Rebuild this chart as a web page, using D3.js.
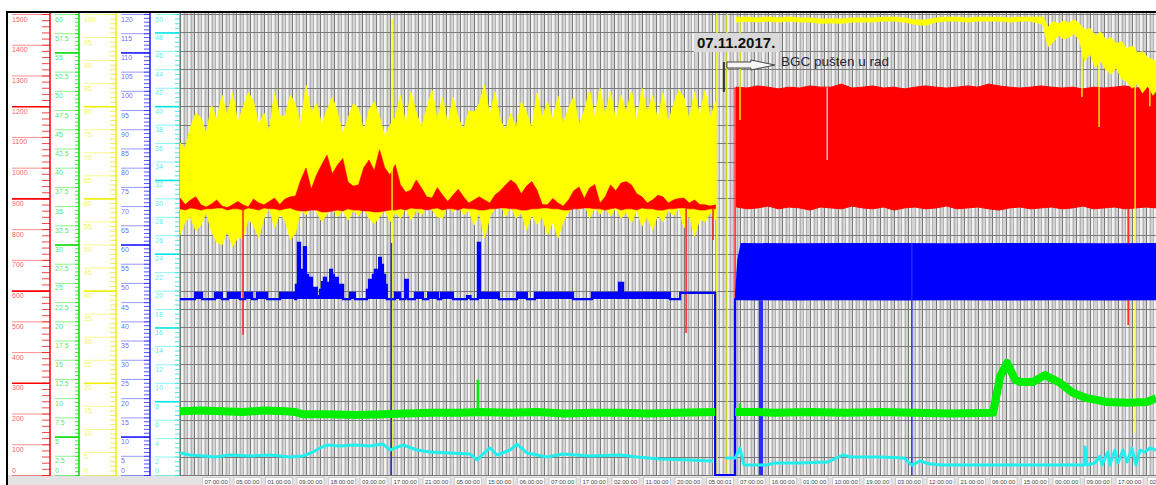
<!DOCTYPE html>
<head>
<meta charset="utf-8">
<style>
  body { margin:0; background:#fff; overflow:hidden; }
  svg { display:block; font-family:"Liberation Sans", Arial, sans-serif; }
</style>
<script src="https://d3js.org/d3.v7.min.js"></script>
</head>
<body>
<script>

// ---------- values ----------
// left axes: red, green, yellow, blue, cyan
var axisMax   = [1500, 60, 100, 120, 50];
var axisStep  = [100, 2.5, 5, 5, 2];
var axisMinor = [20, 0.5, 1, 1, 0.5];
var axisBold  = [[300, 600, 900, 1200], [5, 30, 55], [20, 40, 60, 80], [10, 60, 110], [8, 16, 24, 32, 40, 48]];

var hoursShown = 279;   // hours in the trend window
var leftStep = 1.5;     // sampling of the left envelopes (h), from hour 0
var rightStep = 3;      // sampling of the red block after the start (h)
var rightStart = 159;

// yellow signal before the start, min / max envelope (yellow axis)
var yellowLeftHi = [72.0, 71.0, 75.5, 78.5, 77.4, 74.0, 80.3, 77.0, 82.4, 78.0, 82.9, 76.5, 79.6, 83.0, 81.0, 76.0, 78.5, 74.5, 82.9, 78.0, 77.7, 82.5, 80.3, 76.0, 84.6, 78.5, 80.7, 76.0, 79.2, 82.0, 78.7, 74.0, 77.4, 80.5, 79.6, 74.5, 79.2, 81.0, 77.7, 73.5, 75.9, 77.5, 82.4, 76.0, 83.1, 78.5, 75.5, 79.5, 83.5, 77.0, 81.9, 76.0, 82.0, 77.5, 74.8, 79.0, 78.7, 80.5, 84.6, 78.0, 83.1, 77.0, 74.8, 78.5, 75.3, 81.0, 78.7, 75.0, 82.9, 77.5, 81.0, 77.0, 82.2, 76.0, 79.6, 82.0, 75.9, 79.0, 83.5, 77.5, 83.9, 78.0, 83.1, 77.0, 82.4, 78.5, 83.5, 76.5, 83.9, 78.5, 82.4, 77.0, 82.9, 76.5, 80.3, 83.5, 81.9, 77.0, 83.1, 78.0, 83.5, 77.5, 81.0];
var yellowLeftLo = [52.1, 55.0, 56.0, 53.0, 54.2, 57.0, 52.7, 50.5, 49.9, 53.0, 49.5, 51.5, 51.4, 55.5, 54.2, 51.5, 55.7, 58.0, 53.6, 56.5, 55.3, 51.0, 52.5, 57.5, 56.4, 58.5, 57.0, 55.0, 56.6, 58.0, 56.0, 57.5, 55.3, 57.5, 56.2, 58.0, 55.7, 54.5, 56.0, 57.5, 54.9, 57.0, 55.7, 58.0, 55.3, 57.5, 56.4, 58.5, 57.5, 56.0, 55.7, 58.5, 57.0, 58.5, 56.4, 57.5, 54.2, 57.0, 51.4, 56.0, 57.9, 59.0, 56.0, 58.5, 55.7, 57.0, 53.1, 56.5, 54.4, 56.0, 52.1, 55.0, 51.4, 55.0, 57.0, 58.5, 57.5, 59.0, 55.7, 58.0, 56.6, 58.0, 56.2, 58.0, 55.7, 57.0, 54.7, 57.5, 54.0, 56.0, 53.1, 56.5, 54.9, 57.5, 56.2, 58.0, 53.6, 56.5, 51.8, 55.5, 54.9, 57.0, 55.3];
// red signal before the start (red axis)
var redLeftHi = [901, 880, 895, 905, 879, 872, 882, 895, 875, 870, 879, 890, 879, 872, 898, 885, 879, 890, 901, 880, 898, 905, 908, 960, 999, 930, 976, 1010, 1041, 980, 1009, 1030, 953, 940, 944, 1000, 1025, 990, 1058, 1000, 976, 1010, 944, 920, 927, 960, 934, 905, 901, 935, 911, 890, 911, 930, 905, 885, 895, 905, 895, 885, 911, 925, 944, 960, 947, 915, 940, 955, 927, 880, 879, 900, 885, 875, 895, 925, 937, 900, 934, 945, 885, 905, 944, 925, 950, 955, 944, 915, 905, 885, 895, 910, 905, 885, 895, 900, 901, 885, 895, 880, 879, 875, 879];
var redLeftLo = [866, 862, 869, 866, 862, 866, 866, 869, 869, 862, 866, 866, 862, 869, 866, 862, 869, 866, 866, 862, 866, 869, 862, 859, 859, 862, 862, 856, 856, 859, 862, 859, 866, 862, 862, 859, 859, 856, 856, 859, 862, 862, 866, 862, 869, 866, 866, 862, 866, 869, 862, 866, 866, 862, 869, 866, 866, 862, 862, 866, 866, 869, 869, 866, 866, 862, 862, 866, 866, 869, 869, 866, 866, 862, 862, 866, 866, 869, 869, 866, 866, 862, 866, 869, 862, 866, 866, 862, 869, 866, 866, 862, 862, 866, 866, 869, 869, 866, 866, 862, 862, 866, 866];
// red block after the start
var redRightHi = [1262, 1259, 1266, 1262, 1256, 1262, 1259, 1266, 1262, 1262, 1272, 1259, 1262, 1266, 1259, 1262, 1256, 1262, 1266, 1262, 1259, 1262, 1266, 1262, 1272, 1266, 1262, 1259, 1262, 1266, 1262, 1259, 1262, 1256, 1262, 1259, 1262, 1266, 1259, 1262, 1259];
var redRightLo = [872, 866, 869, 875, 866, 872, 869, 862, 872, 869, 866, 875, 869, 866, 872, 862, 869, 872, 866, 869, 875, 866, 869, 872, 866, 862, 869, 872, 866, 869, 872, 866, 869, 875, 866, 869, 872, 866, 869, 872, 869];
// yellow after the start: [hour, min, max]
var yellowRight = [[159, 98.3, 99.3], [162, 98.5, 99.3], [165, 98.3, 99.1], [168, 98.5, 99.3], [171, 98.3, 99.1], [174, 98.5, 99.3], [177, 98.3, 99.1], [180, 98.3, 99.1], [183, 98.0, 98.9], [186, 98.1, 98.9],
  [189, 98.0, 98.9], [192, 98.3, 99.1], [195, 98.3, 99.1], [198, 98.3, 99.1], [201, 98.5, 99.3], [204, 98.5, 99.3], [207, 98.3, 99.1], [210, 97.8, 98.7], [213, 97.6, 98.7], [216, 98.3, 99.1],
  [219, 98.5, 99.3], [222, 98.5, 99.3], [225, 98.3, 99.1], [228, 98.5, 99.3], [231, 98.5, 99.3], [234, 98.5, 99.3], [237, 98.3, 99.1], [240, 98.5, 99.3], [243, 98.5, 99.3], [246.6, 97.8, 99.3],
  [248, 93.0, 97.0], [249.5, 94.0, 98.3], [251, 95.5, 97.8], [252.5, 94.6, 98.5], [254, 95.0, 98.0], [255.5, 95.8, 98.7], [257, 94.4, 97.8], [258.5, 90.0, 96.5], [260, 91.5, 96.8], [261.5, 88.5, 95.2],
  [263, 90.0, 96.0], [264.5, 88.0, 94.4], [266, 87.0, 94.8], [267.5, 88.5, 93.5], [269, 86.0, 94.0], [270.5, 85.5, 92.4], [272, 84.0, 93.0], [273.5, 85.0, 91.5], [275, 83.0, 91.8], [276.5, 84.5, 90.5], [278, 82.5, 90.0], [279, 83.5, 89.5]];

// blue signal [hour, value] held until the next point (blue axis)
var blueBase = 45.8;
var blueSteps = [[0, 45.8], [4.3, 47.4], [6.3, 45.8], [10, 47.4], [12, 45.8], [13.7, 47.4], [17.1, 45.8], [18.6, 47.4], [20.6, 45.8], [22, 47.4], [24.9, 45.8], [28.6, 47.4], [32.9, 45.8],
  [33.1, 49.5], [33.7, 60.4], [34.3, 53.4], [34.9, 48.2], [35.4, 59.3], [36, 52.1], [36.6, 49.5], [37.1, 51.3], [37.7, 47.4], [38.3, 48.7], [39.1, 46.6], [40, 48.2], [40.6, 50.2], [41.1, 51.3], [41.7, 48.2], [42.3, 50.0], [42.9, 53.4], [43.4, 52.1], [44, 49.5], [44.6, 51.3], [45.1, 48.2], [45.7, 49.5], [46.6, 45.8],
  [48.6, 47.4], [50, 45.8],
  [53.4, 48.2], [54, 50.8], [54.6, 49.5], [55.1, 52.1], [55.7, 53.4], [56.3, 51.3], [56.9, 56.5], [57.4, 54.7], [58, 52.1], [58.6, 49.5], [59.1, 45.8],
  [61.4, 47.4], [62.9, 45.8], [64.3, 50.8], [65.1, 45.8], [67.1, 47.4], [69.4, 45.8], [70.9, 47.4], [73.7, 45.8], [74.6, 47.4], [78, 45.8], [82, 46.6], [83, 45.8], [85.1, 60.4], [85.7, 47.4], [91.1, 45.8], [96.3, 47.4], [99.1, 45.8], [101.4, 47.4], [112.3, 45.8], [117.7, 47.4], [125.4, 50.0], [126.6, 47.4], [140, 45.8], [142.9, 47.4], [152.9, 0], [158.6, 45.8], [159.2, 45.8]];
// blue after the start: [hour, min, max]
var blueRight = [[158.6, 45.8, 47], [159.2, 45.5, 56], [160.2, 45.5, 60.4], [175, 45.4, 60.3], [190, 45.5, 60.4], [205, 45.4, 60.4], [220, 45.5, 60.3], [235, 45.4, 60.4], [250, 45.5, 60.4], [265, 45.4, 60.3], [279, 45.5, 60.4]];
// blue drop-outs to zero: [from hour, to hour, level before]
var blueGaps = [[60.2, 60.6, 60.4], [165.4, 166.6, 45.5], [208.9, 209.3, 60.4]];

// single spikes: [hour, from, to]
var redSpikes = [[18, 866, 456], [144.6, 866, 462], [152.3, 866, 765], [158.6, 1262, 221], [270.9, 866, 488]];
var redDips = [[184.9, 1262, 1025]];
var yellowSpikes = [[60.6, 99, 4], [153.4, 100, 0], [156.3, 100, 0], [160, 99, 77], [257.7, 97, 82], [262.6, 96, 75.5], [272.9, 93, 9.1], [277.1, 88, 80]];
var greenSpikes = [[85.1, 8.3, 12.4], [160, 8.2, 9.3]];

// green signal (green axis)
var greenLeft = [[0, 8.3], [6, 8.4], [12, 8.3], [18, 8.2], [24, 8.4], [30, 8.3], [33, 8.2], [35, 7.9], [42, 7.9], [50, 7.8], [58, 7.9], [64, 8.0], [72, 8.1], [80, 8.1], [86, 8.2], [94, 8.1], [102, 8.2], [110, 8.0], [118, 8.1], [126, 8.1], [134, 8.0], [142, 8.1], [152.9, 8.2]];
var greenRight = [[158.6, 8.2], [165, 8.2], [170, 8.1], [180, 8.2], [190, 8.1], [200, 8.2], [210, 8.1], [220, 8.0], [232.3, 8.1], [234.3, 12.8], [236.3, 14.6], [238.6, 12.4], [240, 12.1], [243.7, 12.1], [247.1, 13.0], [251.4, 12.0], [255.1, 10.7], [259.1, 10.0], [264.9, 9.5], [270.6, 9.4], [276.3, 9.5], [278.9, 10.0]];

// cyan signal (cyan axis)
var cyanLeft = [[0, 2.39], [2.9, 2.17], [6.6, 2.06], [10, 1.95], [14.3, 2.17], [20, 2.06], [25.7, 2.17], [31.4, 1.95], [35.1, 2.06], [38, 2.49], [40, 2.93], [42, 3.25], [45.7, 3.15], [50, 3.25], [54.3, 3.15], [58, 3.36], [60, 2.71], [61.4, 2.93], [63.7, 3.25], [67.7, 2.71], [71.4, 2.49], [77.1, 2.39], [82.9, 2.28], [84.9, 1.63], [86.3, 2.17], [88.6, 2.93], [90.6, 2.17], [94.3, 2.71], [96.3, 3.36], [99.1, 2.39], [104.9, 1.95], [109.4, 2.28], [117.1, 2.06], [125.7, 2.17], [130.6, 1.95], [137.1, 1.74], [145.7, 1.63], [152.3, 1.52]];
var cyanRight = [[155.7, 1.84], [158.6, 1.84], [160, 2.93], [161.1, 1.08], [167.7, 1.08], [169.7, 1.30], [177.1, 1.30], [185.1, 1.41], [189.4, 2.17], [191.7, 1.95], [200, 1.95], [206.9, 1.84], [209.1, 1.08], [211.4, 1.52], [214.3, 1.19], [218, 1.08], [258.3, 1.08], [258.6, 3.04], [259.1, 1.08], [261.4, 1.30], [262.9, 2.06], [263.4, 1.08], [265.1, 2.49], [265.7, 1.08], [267.1, 2.71], [268, 1.30], [269.4, 2.71], [270.6, 1.41], [272, 2.93], [273.1, 1.08], [274.3, 2.71], [275.7, 2.49], [277.1, 2.93], [278.9, 2.71]];

// time axis (the last label runs off the right edge, as on the screen)
var labelStart = 10.3, labelStep = 9;
var timeLabels = ["07:00:00", "05:00:00", "01:00:00", "09:00:00", "18:00:00", "03:00:00", "17:00:00", "21:00:00", "05:00:00", "15:00:00", "06:00:00", "07:00:00", "17:00:00", "02:00:00", "11:00:00", "20:00:00", "05:00:01", "07:00:00", "16:00:00", "01:00:00", "10:00:00", "19:00:00", "03:00:00", "12:00:00", "21:00:00", "06:00:00", "15:00:00", "00:00:00", "09:00:00", "17:00:00", "02:00:00"];

var eventHour = 155.4;
var eventDate = "07.11.2017.";
var eventNote = "BGC pušten u rad";

// ---------- layout ----------
var W = 1156, H = 485;
var plotL = 180, plotR = 1156.5, plotT = 14, plotB = 475, frameT = 12;
var cols = [[7, 50], [50, 79], [79, 116], [116, 150], [150, 180]];
var colours = ["#ff0000", "#00dd00", "#eeee00", "#1a1aff", "#00e5e5"];
var minorLen = [8, 4, 6, 6, 5];

var svg = d3.select("body").append("svg").attr("width", W).attr("height", H);

var x = d3.scaleLinear().domain([0, hoursShown]).range([plotL, plotR]);
var ys = axisMax.map(function(m) { return d3.scaleLinear().domain([0, m]).range([plotB, plotT]); });
var yRed = ys[0], yGreen = ys[1], yYellow = ys[2], yBlue = ys[3], yCyan = ys[4];

// bottom strip
svg.append("rect").attr("x", 7).attr("y", plotB).attr("width", W - 7).attr("height", H - plotB).attr("fill", "#e3e3e3");

// ---------- left axes ----------
axisMax.forEach(function(m, k) {
  var c = cols[k], w = c[1] - c[0];
  var g = svg.append("g").attr("transform", "translate(" + c[1] + ",0)");
  var minors = d3.range(0, m + 1e-6, axisMinor[k]);
  var majors = d3.range(0, m + 1e-6, axisStep[k]);

  var gm = g.append("g").call(d3.axisLeft(ys[k]).tickValues(minors).tickSize(minorLen[k]).tickSizeOuter(0).tickFormat(""));
  gm.select(".domain").remove();
  gm.selectAll(".tick line").attr("stroke", colours[k]).attr("stroke-opacity", 0.75);

  var gM = g.append("g").call(d3.axisLeft(ys[k]).tickValues(majors).tickSize(w - 5).tickSizeOuter(0).tickFormat(d3.format("~g")));
  gM.attr("font-family", null).attr("font-size", null);
  gM.select(".domain").remove();
  gM.selectAll(".tick line")
    .attr("stroke", colours[k])
    .attr("stroke-opacity", function(d) { return axisBold[k].indexOf(d) >= 0 ? 1 : 0.45; })
    .attr("stroke-width", function(d) { return axisBold[k].indexOf(d) >= 0 ? 1.6 : 1; });
  gM.selectAll(".tick text")
    .attr("x", -(w - 5)).attr("text-anchor", "start")
    .attr("dy", function(d) { return d === 0 ? "-0.3em" : "1em"; })
    .attr("fill", colours[k]).attr("fill-opacity", 0.7)
    .style("font-size", "7px");

  g.append("line").attr("x1", 0).attr("x2", 0).attr("y1", frameT).attr("y2", plotB + 1)
    .attr("stroke", colours[k]).attr("stroke-width", 1.5);
});

// ---------- plot ----------
svg.append("clipPath").attr("id", "pc").append("rect")
  .attr("x", plotL).attr("y", frameT).attr("width", W - plotL).attr("height", plotB - frameT + 1);
var plot = svg.append("g").attr("clip-path", "url(#pc)");

plot.append("rect").attr("x", plotL).attr("y", frameT).attr("width", W - plotL).attr("height", plotB - frameT).attr("fill", "#d3d3d3");
var hours = d3.range(0, hoursShown + 1);
plot.append("g").selectAll("rect").data(hours.filter(function(h) { return h % 2 === 0; })).join("rect")
  .attr("x", function(h) { return x(h) + 0.5; }).attr("y", frameT)
  .attr("width", x(1) - x(0) - 1).attr("height", plotB - frameT)
  .attr("fill", "#f1f1f1");
plot.append("g").selectAll("line").data(hours).join("line")
  .attr("x1", function(h) { return Math.round(x(h)) + 0.5; })
  .attr("x2", function(h) { return Math.round(x(h)) + 0.5; })
  .attr("y1", frameT).attr("y2", plotB)
  .attr("stroke", function(h) { return h % 4 === 0 ? "#777" : "#b2b2b2"; });
plot.append("g").selectAll("line").data(d3.range(0, axisMax[4] + 1e-6, axisStep[4])).join("line")
  .attr("x1", plotL).attr("x2", W)
  .attr("y1", function(v) { return Math.round(yCyan(v)) + 0.5; })
  .attr("y2", function(v) { return Math.round(yCyan(v)) + 0.5; })
  .attr("stroke", "#7a7a7a");

function band(hi, lo, start, step) {
  return hi.map(function(v, i) { return [start + i * step, lo[i], v]; });
}
function bandArea(y) {
  return d3.area().x(function(d) { return x(d[0]); }).y0(function(d) { return y(d[1]); }).y1(function(d) { return y(d[2]); });
}
function spikes(g, data, y, colour, width, opacity) {
  g.selectAll(null).data(data).join("line")
    .attr("x1", function(d) { return x(d[0]); }).attr("x2", function(d) { return x(d[0]); })
    .attr("y1", function(d) { return y(d[1]); }).attr("y2", function(d) { return y(d[2]); })
    .attr("stroke", colour).attr("stroke-width", width).attr("stroke-opacity", opacity || 1);
}

var marks = plot.append("g");
marks.append("path").datum(band(yellowLeftHi, yellowLeftLo, 0, leftStep)).attr("d", bandArea(yYellow))
  .attr("fill", "#ffff00").attr("stroke", "#ffff00").attr("stroke-width", 0.8);
marks.append("path").datum(band(redLeftHi, redLeftLo, 0, leftStep)).attr("d", bandArea(yRed))
  .attr("fill", "#ff0000").attr("stroke", "#ff0000").attr("stroke-width", 0.6);
marks.append("path").datum(band(redRightHi, redRightLo, rightStart, rightStep)).attr("d", bandArea(yRed))
  .attr("fill", "#ff0000").attr("stroke", "#ff0000").attr("stroke-width", 1);
marks.append("path").datum(yellowRight).attr("d", bandArea(yYellow))
  .attr("fill", "#ffff00").attr("stroke", "#ffff00").attr("stroke-width", 1.2);

spikes(marks, redDips, yRed, "#f3e3e3", 1.2);
spikes(marks, redSpikes, yRed, "#ff2020", 1.5);
spikes(marks, yellowSpikes, yYellow, "#ffff00", 1.6, 0.85);

// blue
marks.append("path").datum(blueRight).attr("d", bandArea(yBlue)).attr("fill", "#0000ff");
var blueLeft = blueSteps.filter(function(d) { return d[0] < 152; });
marks.append("path").datum(blueLeft)
  .attr("d", d3.area().curve(d3.curveStepAfter).x(function(d) { return x(d[0]); })
    .y0(yBlue(blueBase)).y1(function(d) { return yBlue(d[1]); }))
  .attr("fill", "#0000ff");
marks.append("path").datum(blueSteps)
  .attr("d", d3.line().curve(d3.curveStepAfter).x(function(d) { return x(d[0]); }).y(function(d) { return yBlue(d[1]); }))
  .attr("fill", "none").attr("stroke", "#0000ff").attr("stroke-width", 2.2);
marks.selectAll(null).data(blueGaps).join("rect")
  .attr("x", function(d) { return x(d[0]); }).attr("width", function(d) { return x(d[1]) - x(d[0]); })
  .attr("y", function(d) { return yBlue(d[2]); }).attr("height", function(d) { return yBlue(0) - yBlue(d[2]); })
  .attr("fill", "#2a2aff");

// green and cyan
var lineG = d3.line().x(function(d) { return x(d[0]); }).y(function(d) { return yGreen(d[1]); });
[greenLeft, greenRight].forEach(function(s) {
  marks.append("path").datum(s).attr("d", lineG)
    .attr("fill", "none").attr("stroke", "#00ee00").attr("stroke-width", 8).attr("stroke-linejoin", "round");
});
spikes(marks, greenSpikes, yGreen, "#00ee00", 2.5);
var lineC = d3.line().x(function(d) { return x(d[0]); }).y(function(d) { return yCyan(d[1]); });
[cyanLeft, cyanRight].forEach(function(s) {
  marks.append("path").datum(s).attr("d", lineC)
    .attr("fill", "none").attr("stroke", "#22eeee").attr("stroke-width", 3).attr("stroke-linejoin", "round");
});

// ---------- annotation ----------
var ex = x(eventHour);
var ann = svg.append("g");
ann.append("rect").attr("x", ex - 30).attr("y", 33).attr("width", 86).attr("height", 19).attr("fill", "#d9d9d9");
ann.append("text").attr("x", ex - 27).attr("y", 48).text(eventDate)
  .attr("font-weight", "bold").attr("font-size", 15).attr("fill", "#111");
ann.append("line").attr("x1", ex).attr("x2", ex).attr("y1", 62).attr("y2", 92)
  .attr("stroke", "#333").attr("stroke-width", 2);
ann.append("path")
  .attr("d", "M" + (ex + 3) + ",62H" + (ex + 27) + "V60L" + (ex + 51) + ",65L" + (ex + 27) + ",70V68H" + (ex + 3) + "Z")
  .attr("fill", "#f7f7f7").attr("stroke", "#444").attr("stroke-width", 1);
ann.append("text").attr("x", ex + 57).attr("y", 66).text(eventNote)
  .attr("font-size", 13.5).attr("fill", "#262636");

// ---------- time labels ----------
var tl = svg.append("g");
var tg = tl.selectAll("g").data(timeLabels).join("g")
  .attr("transform", function(d, i) { return "translate(" + x(labelStart + i * labelStep) + ",0)"; });
tg.append("rect").attr("x", -13.5).attr("y", 477.5).attr("width", 27).attr("height", 9)
  .attr("fill", "#fff").attr("stroke", "#c4c4c4").attr("stroke-width", 0.8);
tg.append("text").attr("y", 483.6).attr("text-anchor", "middle").attr("font-size", 6).attr("fill", "#444").text(function(d) { return d; });

// ---------- frame ----------
svg.append("line").attr("x1", 7).attr("x2", 7).attr("y1", frameT).attr("y2", H).attr("stroke", "#000").attr("stroke-width", 2);
svg.append("line").attr("x1", 6).attr("x2", W).attr("y1", frameT).attr("y2", frameT).attr("stroke", "#000").attr("stroke-width", 2);

</script>
</body>
